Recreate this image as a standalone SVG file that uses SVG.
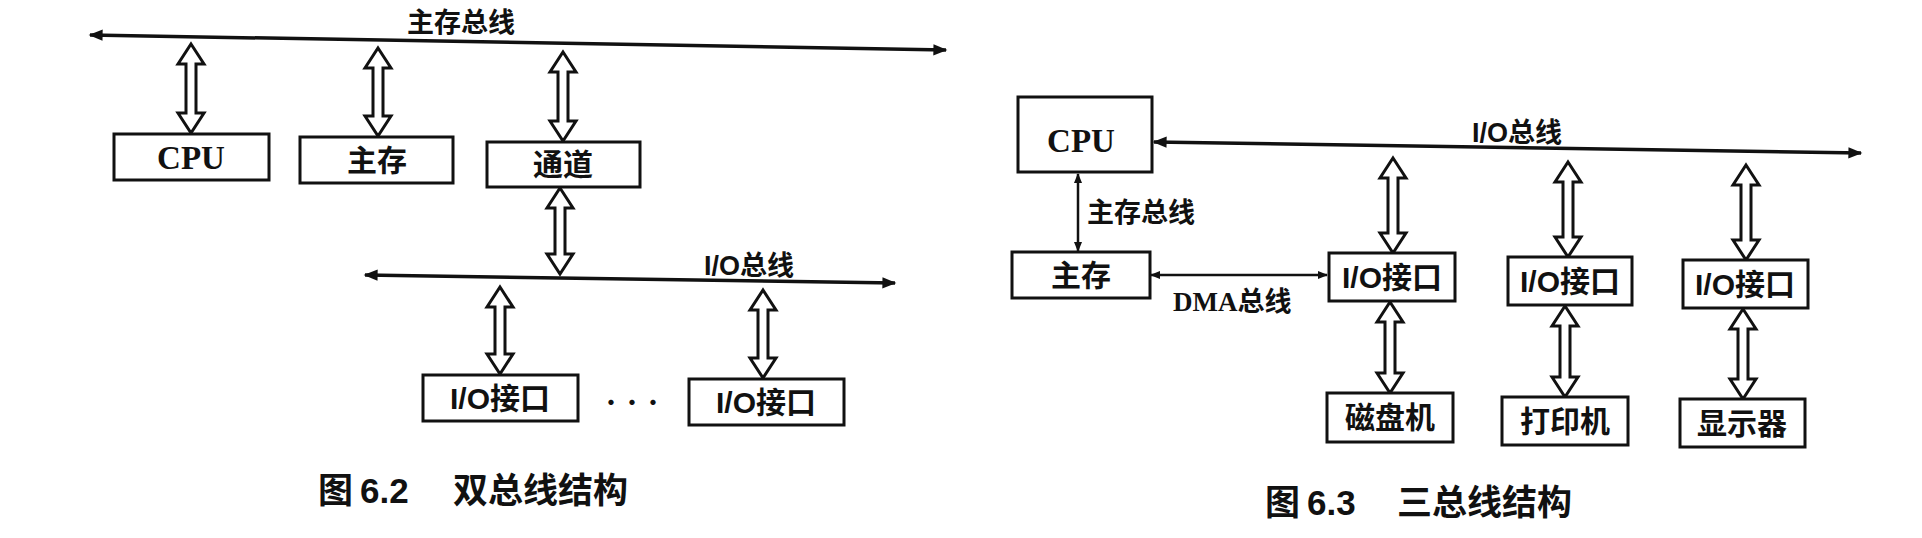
<svg xmlns="http://www.w3.org/2000/svg" width="1922" height="538" viewBox="0 0 1922 538">
<style>
.box{fill:#fff;stroke:#111;stroke-width:3}
.bus{stroke:#111;stroke-width:3.5;fill:none}
.thin{stroke:#111;stroke-width:2.5;fill:none}
.dbl{fill:#fff;stroke:#111;stroke-width:3;stroke-linejoin:miter}
.t{font-family:"Noto Sans CJK SC","Noto Sans",sans-serif;font-weight:bold;font-size:30px;fill:#111;text-anchor:middle}
.lat{font-family:"Liberation Sans","Noto Sans CJK SC",sans-serif;font-weight:bold}
.ser{font-family:"Liberation Serif","Noto Sans CJK SC",serif;font-weight:bold}
.big{font-size:33px}
.lbl{font-family:"Noto Sans CJK SC","Noto Sans",sans-serif;font-weight:bold;font-size:27px;fill:#111}
.cap{font-family:"Noto Sans CJK SC","Noto Sans",sans-serif;font-weight:bold;font-size:35px;fill:#111}
</style>
<defs>
<marker id="ah" viewBox="0 0 10 10" refX="9" refY="5" markerWidth="5" markerHeight="4" orient="auto-start-reverse" markerUnits="strokeWidth">
<path d="M0,1 L10,5 L0,9 Z" fill="#111"/>
</marker>
</defs>
<rect width="1922" height="538" fill="#fff"/>

<!-- connectors -->
<g id="connectors">
<!-- left diagram buses -->
<line class="bus" x1="90" y1="35" x2="946" y2="50" marker-start="url(#ah)" marker-end="url(#ah)"/>
<line class="bus" x1="365" y1="275" x2="895" y2="283" marker-start="url(#ah)" marker-end="url(#ah)"/>
<!-- left double arrows -->
<path class="dbl" d="M191,44 L204,64 L196,64 L196,113 L204,113 L191,133 L178,113 L186,113 L186,64 L178,64 Z"/>
<path class="dbl" d="M378,48 L391,68 L383,68 L383,116 L391,116 L378,136 L365,116 L373,116 L373,68 L365,68 Z"/>
<path class="dbl" d="M563,52 L576,72 L568,72 L568,121 L576,121 L563,141 L550,121 L558,121 L558,72 L550,72 Z"/>
<path class="dbl" d="M560,188 L573,208 L565,208 L565,254 L573,254 L560,274 L547,254 L555,254 L555,208 L547,208 Z"/>
<path class="dbl" d="M500,287 L513,307 L505,307 L505,354 L513,354 L500,374 L487,354 L495,354 L495,307 L487,307 Z"/>
<path class="dbl" d="M763,290 L776,310 L768,310 L768,358 L776,358 L763,378 L750,358 L758,358 L758,310 L750,310 Z"/>
<!-- right diagram buses -->
<line class="bus" x1="1154" y1="142" x2="1861" y2="153" marker-start="url(#ah)" marker-end="url(#ah)"/>
<line class="thin" x1="1078" y1="174" x2="1078" y2="251" marker-start="url(#ah)" marker-end="url(#ah)"/>
<line class="thin" x1="1151" y1="275" x2="1327" y2="275" marker-start="url(#ah)" marker-end="url(#ah)"/>
<!-- right double arrows -->
<path class="dbl" d="M1393,158 L1406,178 L1398,178 L1398,233 L1406,233 L1393,253 L1380,233 L1388,233 L1388,178 L1380,178 Z"/>
<path class="dbl" d="M1568,162 L1581,182 L1573,182 L1573,237 L1581,237 L1568,257 L1555,237 L1563,237 L1563,182 L1555,182 Z"/>
<path class="dbl" d="M1746,165 L1759,185 L1751,185 L1751,240 L1759,240 L1746,260 L1733,240 L1741,240 L1741,185 L1733,185 Z"/>
<path class="dbl" d="M1390,302 L1403,322 L1395,322 L1395,373 L1403,373 L1390,393 L1377,373 L1385,373 L1385,322 L1377,322 Z"/>
<path class="dbl" d="M1565,306 L1578,326 L1570,326 L1570,377 L1578,377 L1565,397 L1552,377 L1560,377 L1560,326 L1552,326 Z"/>
<path class="dbl" d="M1743,309 L1756,329 L1748,329 L1748,379 L1756,379 L1743,399 L1730,379 L1738,379 L1738,329 L1730,329 Z"/>
</g>

<!-- bus labels -->
<text class="lbl" x="461" y="32" text-anchor="middle">主存总线</text>
<text class="lbl" x="749" y="275" text-anchor="middle"><tspan class="lat">I/O</tspan>总线</text>
<text class="lbl" x="1517" y="142" text-anchor="middle"><tspan class="lat">I/O</tspan>总线</text>
<text class="lbl" x="1087" y="222">主存总线</text>
<text class="lbl" x="1173" y="311"><tspan class="ser">DMA</tspan>总线</text>

<!-- left diagram nodes -->
<g id="cpu1"><rect class="box" x="114" y="134" width="155" height="46"/><text class="t ser big" x="191" y="169">CPU</text></g>
<g id="mem1"><rect class="box" x="300" y="137" width="153" height="46"/><text class="t" x="377" y="171">主存</text></g>
<g id="chan1"><rect class="box" x="487" y="142" width="153" height="45"/><text class="t" x="563" y="175">通道</text></g>
<g id="io1a"><rect class="box" x="423" y="375" width="155" height="46"/><text class="t" x="500" y="409"><tspan class="lat">I/O</tspan>接口</text></g>
<g id="dots1"><text class="t" x="632" y="410" style="font-size:21px">···</text></g>
<g id="io1b"><rect class="box" x="689" y="379" width="155" height="46"/><text class="t" x="766" y="413"><tspan class="lat">I/O</tspan>接口</text></g>

<!-- right diagram nodes -->
<g id="cpu2"><rect class="box" x="1018" y="97" width="134" height="75"/><text class="t ser big" x="1081" y="152">CPU</text></g>
<g id="mem2"><rect class="box" x="1012" y="252" width="138" height="46"/><text class="t" x="1081" y="286">主存</text></g>
<g id="io2a"><rect class="box" x="1329" y="253" width="126" height="48"/><text class="t" x="1392" y="288"><tspan class="lat">I/O</tspan>接口</text></g>
<g id="io2b"><rect class="box" x="1508" y="257" width="124" height="48"/><text class="t" x="1570" y="292"><tspan class="lat">I/O</tspan>接口</text></g>
<g id="io2c"><rect class="box" x="1683" y="260" width="125" height="48"/><text class="t" x="1745" y="295"><tspan class="lat">I/O</tspan>接口</text></g>
<g id="disk"><rect class="box" x="1327" y="393" width="126" height="49"/><text class="t" x="1390" y="428">磁盘机</text></g>
<g id="printer"><rect class="box" x="1502" y="397" width="126" height="48"/><text class="t" x="1565" y="432">打印机</text></g>
<g id="display"><rect class="box" x="1680" y="399" width="125" height="48"/><text class="t" x="1742" y="434">显示器</text></g>

<!-- captions -->
<text class="cap" y="503"><tspan x="318">图</tspan><tspan x="360" class="lat">6.2</tspan><tspan x="453">双总线结构</tspan></text>
<text class="cap" y="515"><tspan x="1265">图</tspan><tspan x="1307" class="lat">6.3</tspan><tspan x="1397">三总线结构</tspan></text>
</svg>
